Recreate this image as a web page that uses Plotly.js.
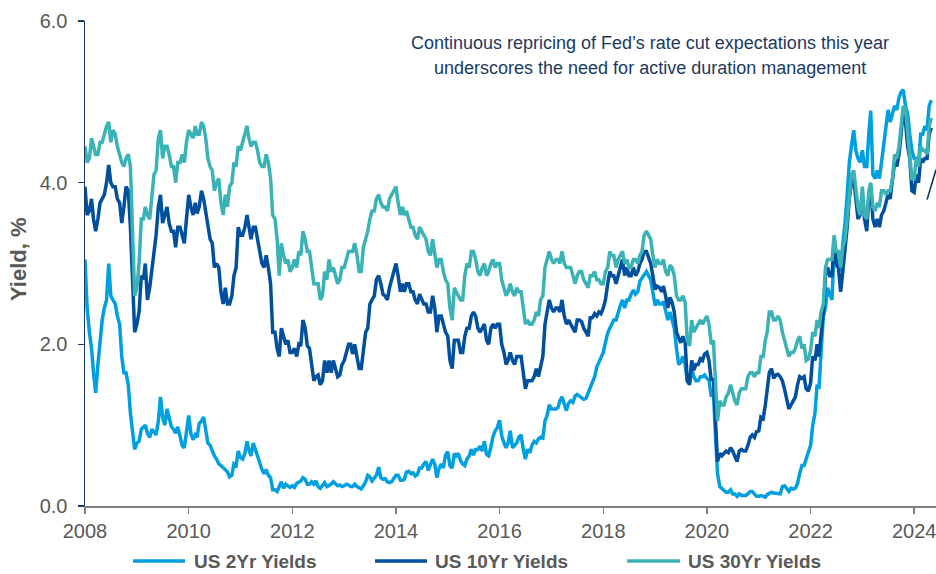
<!DOCTYPE html>
<html>
<head>
<meta charset="utf-8">
<script src="https://cdn.plot.ly/plotly-3.0.1.min.js"></script>
<style>
html,body{margin:0;padding:0;background:#fff;}
#chart{width:936px;height:574px;}
</style>
</head>
<body>
<div id="chart"></div>
<script>
// Semi-monthly observations (1st and 16th of each month), Jan 2008 - May 2024
var startYear = 2008;
var y2 = [
3.05,2.45,2.15,1.95,1.65,1.40,1.75,2.05,2.30,2.45,2.55,3.00,2.60,2.55,2.50,2.35,2.25,1.85,1.65,1.65,1.50,1.15,0.95,0.70,
0.78,0.80,0.95,0.98,1.00,0.90,0.85,0.95,0.92,0.88,1.05,1.35,1.10,1.00,1.20,1.10,0.98,0.95,0.90,0.98,0.85,0.75,0.72,0.90,
1.12,0.90,0.82,0.88,0.85,1.02,1.05,1.10,0.92,0.78,0.75,0.68,0.62,0.58,0.52,0.50,0.48,0.45,0.42,0.36,0.38,0.52,0.50,0.68,
0.60,0.58,0.65,0.80,0.70,0.62,0.78,0.70,0.60,0.55,0.45,0.40,0.45,0.38,0.35,0.20,0.20,0.18,0.25,0.30,0.22,0.27,0.25,0.23,
0.25,0.23,0.28,0.30,0.31,0.35,0.33,0.27,0.27,0.30,0.27,0.31,0.24,0.22,0.26,0.29,0.24,0.25,0.27,0.30,0.27,0.25,0.26,0.24,
0.25,0.27,0.26,0.24,0.24,0.27,0.24,0.22,0.21,0.25,0.30,0.38,0.36,0.31,0.34,0.38,0.48,0.35,0.33,0.34,0.30,0.29,0.30,0.34,
0.38,0.38,0.32,0.32,0.33,0.42,0.43,0.40,0.41,0.37,0.39,0.47,0.47,0.52,0.55,0.44,0.52,0.58,0.52,0.35,0.47,0.52,0.47,0.63,
0.67,0.50,0.47,0.65,0.62,0.65,0.56,0.52,0.50,0.58,0.62,0.70,0.63,0.70,0.70,0.74,0.68,0.80,0.64,0.62,0.73,0.86,0.93,0.97,
1.06,0.87,0.78,0.72,0.78,0.93,0.72,0.75,0.78,0.85,0.88,0.70,0.58,0.70,0.66,0.75,0.80,0.78,0.83,0.85,0.84,1.05,1.12,1.25,
1.20,1.20,1.20,1.22,1.30,1.35,1.26,1.18,1.27,1.30,1.28,1.36,1.38,1.36,1.35,1.32,1.33,1.40,1.48,1.55,1.60,1.72,1.78,1.85,
1.90,2.02,2.14,2.20,2.25,2.30,2.30,2.40,2.48,2.55,2.45,2.55,2.55,2.62,2.67,2.62,2.65,2.78,2.82,2.87,2.90,2.85,2.80,2.65,
2.48,2.55,2.50,2.50,2.53,2.42,2.30,2.40,2.30,2.20,1.95,1.75,1.78,1.85,1.75,1.55,1.52,1.70,1.60,1.55,1.55,1.60,1.60,1.62,
1.58,1.56,1.35,1.42,0.90,0.40,0.24,0.22,0.20,0.17,0.17,0.20,0.15,0.15,0.12,0.15,0.13,0.13,0.13,0.15,0.18,0.18,0.15,0.12,
0.12,0.13,0.12,0.11,0.14,0.15,0.17,0.16,0.16,0.15,0.15,0.24,0.25,0.22,0.18,0.22,0.21,0.22,0.28,0.40,0.50,0.50,0.58,0.67,
0.75,1.00,1.15,1.50,1.45,1.90,2.35,2.45,2.70,2.62,2.55,3.20,2.95,3.15,2.90,3.25,3.50,3.85,4.25,4.45,4.65,4.40,4.30,4.25,
4.40,4.20,4.20,4.62,4.89,4.10,4.05,4.15,4.05,4.25,4.45,4.70,4.90,4.75,4.85,4.95,4.90,5.05,5.12,5.15,4.95,4.85,4.60,4.40,
4.30,4.30,4.25,4.60,4.60,4.70,4.65,4.95,5.02
];
var y10 = [
3.95,3.60,3.65,3.80,3.55,3.40,3.55,3.75,3.80,3.85,4.00,4.22,4.00,3.95,3.95,3.80,3.75,3.50,3.70,3.95,3.90,3.45,2.80,2.15,
2.25,2.40,2.85,2.80,3.00,2.55,2.70,2.90,3.15,3.35,3.70,3.85,3.50,3.60,3.70,3.50,3.40,3.40,3.20,3.45,3.45,3.35,3.25,3.55,
3.85,3.70,3.60,3.75,3.62,3.70,3.90,3.80,3.65,3.45,3.30,3.25,2.95,3.00,2.95,2.65,2.50,2.70,2.50,2.50,2.60,2.85,2.95,3.45,
3.35,3.35,3.45,3.60,3.45,3.30,3.45,3.45,3.30,3.15,3.00,2.95,3.10,2.95,2.75,2.15,2.15,1.95,1.85,2.20,2.10,2.00,2.05,1.90,
1.90,1.95,1.85,2.00,1.98,2.30,2.20,1.98,1.95,1.75,1.55,1.60,1.62,1.50,1.55,1.80,1.65,1.80,1.65,1.80,1.70,1.60,1.62,1.75,
1.80,1.90,2.00,2.00,1.88,2.00,1.85,1.70,1.70,1.95,2.15,2.20,2.50,2.55,2.60,2.80,2.85,2.75,2.62,2.60,2.55,2.70,2.80,2.90,
3.00,2.85,2.65,2.75,2.65,2.75,2.75,2.65,2.65,2.55,2.50,2.62,2.55,2.50,2.50,2.40,2.40,2.60,2.45,2.15,2.35,2.35,2.25,2.15,
2.10,1.80,1.70,2.05,2.05,2.05,1.90,1.90,2.10,2.20,2.20,2.35,2.40,2.35,2.20,2.15,2.20,2.25,2.05,2.00,2.20,2.25,2.20,2.25,
2.25,2.00,1.90,1.75,1.80,1.90,1.80,1.75,1.85,1.85,1.85,1.65,1.45,1.55,1.55,1.55,1.60,1.70,1.60,1.75,1.85,2.25,2.40,2.55,
2.45,2.40,2.45,2.45,2.40,2.55,2.35,2.25,2.30,2.25,2.20,2.15,2.30,2.30,2.28,2.20,2.15,2.10,2.33,2.33,2.38,2.35,2.40,2.38,
2.45,2.55,2.75,2.90,2.85,2.85,2.75,2.85,2.95,3.05,2.85,2.95,2.85,2.85,2.95,2.85,2.90,3.00,3.05,3.15,3.15,3.08,3.00,2.85,
2.68,2.72,2.70,2.65,2.72,2.60,2.45,2.58,2.52,2.40,2.15,2.08,2.02,2.10,2.02,1.55,1.50,1.80,1.68,1.75,1.75,1.82,1.80,1.88,
1.90,1.80,1.55,1.58,1.10,0.55,0.65,0.62,0.65,0.68,0.66,0.72,0.68,0.62,0.55,0.68,0.70,0.68,0.68,0.75,0.85,0.88,0.85,0.92,
0.93,1.10,1.08,1.25,1.45,1.65,1.70,1.58,1.62,1.63,1.60,1.55,1.45,1.30,1.20,1.25,1.30,1.35,1.50,1.60,1.58,1.60,1.45,1.42,
1.52,1.85,1.80,2.00,1.85,2.15,2.40,2.85,2.95,2.85,2.85,3.30,3.00,2.95,2.65,2.90,3.15,3.45,3.80,4.00,4.05,3.80,3.55,3.60,
3.85,3.55,3.40,3.85,3.95,3.55,3.45,3.55,3.45,3.60,3.65,3.75,3.85,3.80,4.05,4.25,4.20,4.35,4.60,4.90,4.75,4.45,4.30,3.90,
3.88,4.10,4.00,4.30,4.25,4.30,4.30,4.60,4.68
];
var y30 = [
4.45,4.25,4.30,4.55,4.45,4.35,4.35,4.50,4.50,4.60,4.70,4.75,4.50,4.65,4.60,4.45,4.35,4.25,4.20,4.30,4.35,4.20,3.40,2.60,
2.70,3.00,3.55,3.55,3.70,3.60,3.55,3.80,4.10,4.15,4.55,4.65,4.30,4.45,4.45,4.35,4.20,4.20,4.00,4.25,4.25,4.35,4.25,4.50,
4.65,4.60,4.55,4.70,4.60,4.60,4.75,4.70,4.55,4.30,4.20,4.15,3.90,4.00,4.05,3.75,3.60,3.85,3.70,3.95,4.00,4.25,4.20,4.45,
4.40,4.50,4.60,4.70,4.55,4.45,4.50,4.50,4.40,4.25,4.20,4.20,4.35,4.25,4.05,3.60,3.55,3.30,2.85,3.25,3.10,3.00,3.05,2.90,
2.95,3.05,2.95,3.15,3.10,3.40,3.30,3.15,3.15,2.95,2.75,2.75,2.75,2.55,2.60,2.90,2.80,3.05,2.90,2.95,2.85,2.75,2.80,2.95,
2.95,3.05,3.15,3.15,3.15,3.25,3.10,2.90,2.90,3.20,3.30,3.40,3.55,3.65,3.65,3.80,3.85,3.75,3.70,3.70,3.65,3.80,3.85,3.90,
3.95,3.75,3.60,3.70,3.60,3.65,3.55,3.45,3.45,3.35,3.30,3.45,3.40,3.35,3.30,3.15,3.10,3.30,3.15,2.95,3.05,3.05,2.90,2.80,
2.75,2.45,2.30,2.70,2.65,2.60,2.55,2.55,2.85,3.00,2.95,3.15,3.15,3.05,2.90,2.85,2.95,3.00,2.85,2.90,3.00,3.05,2.95,3.00,
3.00,2.80,2.70,2.60,2.65,2.75,2.65,2.60,2.70,2.65,2.65,2.45,2.25,2.30,2.25,2.25,2.30,2.40,2.35,2.55,2.60,2.95,3.05,3.15,
3.05,3.00,3.05,3.05,3.00,3.15,3.00,2.95,2.95,2.95,2.85,2.75,2.85,2.90,2.90,2.80,2.75,2.70,2.85,2.85,2.90,2.80,2.80,2.75,
2.75,2.90,2.95,3.15,3.10,3.10,2.95,3.05,3.10,3.15,3.00,3.05,2.95,2.95,3.05,3.05,3.00,3.10,3.15,3.35,3.40,3.35,3.30,3.10,
2.95,3.05,3.00,3.00,3.05,2.90,2.85,2.98,2.95,2.85,2.60,2.55,2.55,2.60,2.52,2.05,1.98,2.30,2.15,2.20,2.25,2.30,2.25,2.30,
2.35,2.25,2.00,2.05,1.60,1.05,1.30,1.25,1.25,1.35,1.40,1.50,1.40,1.30,1.25,1.40,1.45,1.45,1.45,1.60,1.65,1.65,1.60,1.65,
1.65,1.85,1.85,2.05,2.15,2.40,2.40,2.30,2.30,2.35,2.30,2.15,2.05,1.95,1.85,1.90,1.90,1.95,2.05,2.10,1.95,2.00,1.80,1.82,
1.92,2.15,2.10,2.30,2.20,2.40,2.50,2.95,3.05,3.05,3.05,3.35,3.15,3.15,2.95,3.20,3.30,3.55,3.80,4.10,4.15,3.90,3.70,3.60,
3.95,3.60,3.55,3.90,4.00,3.70,3.65,3.75,3.70,3.90,3.90,3.85,3.90,3.90,4.05,4.35,4.30,4.45,4.70,4.95,4.90,4.60,4.40,4.05,
4.05,4.30,4.20,4.45,4.40,4.40,4.35,4.70,4.80
];
var seriesNames = ['US 2Yr Yields', 'US 10Yr Yields', 'US 30Yr Yields'];
var seriesColors = ['#00A0E0', '#00509E', '#3BB3B6'];
var extraX = ['2024-04-01', '2024-06-03'];
var extraY = [3.79, 4.16];
var yTicks = [0, 2, 4, 6];
var noteLines = ['Continuous repricing of Fed\u2019s rate cut expectations this year',
                 'underscores the need for active duration management'];

function pad(n){ return (n < 10 ? '0' : '') + n; }
var dates = [];
for (var i = 0; i < y2.length; i++) {
  var m = Math.floor(i / 2);
  var yr = startYear + Math.floor(m / 12);
  var mo = (m % 12) + 1;
  var d = (i % 2 === 0) ? 1 : 16;
  dates.push(yr + '-' + pad(mo) + '-' + pad(d));
}

var FONT = 'Liberation Sans, Arial, sans-serif';
var allY = [y2, y10, y30];
var traces = allY.map(function(v, k){
  return {x: dates, y: v, type: 'scatter', mode: 'lines', name: seriesNames[k],
          line: {color: seriesColors[k], width: 3.5}, showlegend: false, hoverinfo: 'skip'};
});
traces.push({x: extraX, y: extraY, type: 'scatter', mode: 'lines',
  line: {color: '#0E3556', width: 1.6}, showlegend: false, hoverinfo: 'skip'});

// custom legend
var L = 85, W = 851, B = 506, H = 485;
function px(x){ return (x - L) / W; }
function py(y){ return (B - y) / H; }
var legX = [[133, 185, 192], [375, 427, 433], [627, 680, 686]];
var shapes = [], annotations = [];
legX.forEach(function(p, k){
  shapes.push({type: 'line', xref: 'paper', yref: 'paper', x0: px(p[0]), x1: px(p[1]),
    y0: py(561), y1: py(561), line: {color: seriesColors[k], width: 3.5}});
  annotations.push({xref: 'paper', yref: 'paper', x: px(p[2]), y: py(561), xanchor: 'left',
    yanchor: 'middle', showarrow: false, text: '<b>' + seriesNames[k] + '</b>',
    font: {family: FONT, size: 19, color: '#595959'}});
});
annotations.push({xref: 'paper', yref: 'paper', x: px(650), y: py(43), xanchor: 'center',
  yanchor: 'middle', showarrow: false, text: noteLines[0], font: {family: FONT, size: 18, color: '#1B3A5E'}});
annotations.push({xref: 'paper', yref: 'paper', x: px(650), y: py(68), xanchor: 'center',
  yanchor: 'middle', showarrow: false, text: noteLines[1], font: {family: FONT, size: 18, color: '#1B3A5E'}});
annotations.push({xref: 'paper', yref: 'paper', x: px(18), y: py(259), xanchor: 'center',
  yanchor: 'middle', showarrow: false, textangle: -90, text: '<b>Yield, %</b>',
  font: {family: FONT, size: 22, color: '#595959'}});

var layout = {
  width: 936, height: 574,
  margin: {l: 85, r: 0, t: 21, b: 68},
  paper_bgcolor: '#fff', plot_bgcolor: '#fff',
  font: {family: FONT, color: '#595959'},
  xaxis: {type: 'date', range: ['2008-01-01', '2024-06-03'], dtick: 'M24', tick0: '2008-01-01',
    tickformat: '%Y', showgrid: false, zeroline: false, showline: true, linecolor: '#808080',
    linewidth: 1.5, ticks: 'outside', ticklen: 6, tickcolor: '#808080', tickwidth: 1.5,
    ticklabeloverflow: 'allow',
    tickfont: {family: FONT, size: 20, color: '#595959'}, fixedrange: true},
  yaxis: {range: [0, 6], tickvals: yTicks, tickformat: '.1f', showgrid: false, zeroline: false,
    showline: true, linecolor: '#1B3A5E', linewidth: 1.5, ticks: 'outside', ticklen: 6,
    tickcolor: '#1B3A5E', tickwidth: 1.5, ticklabelstandoff: 6,
    tickfont: {family: FONT, size: 20, color: '#595959'}, fixedrange: true},
  shapes: shapes,
  annotations: annotations,
  showlegend: false
};
Plotly.newPlot('chart', traces, layout, {displayModeBar: false, staticPlot: true});
</script>
</body>
</html>
